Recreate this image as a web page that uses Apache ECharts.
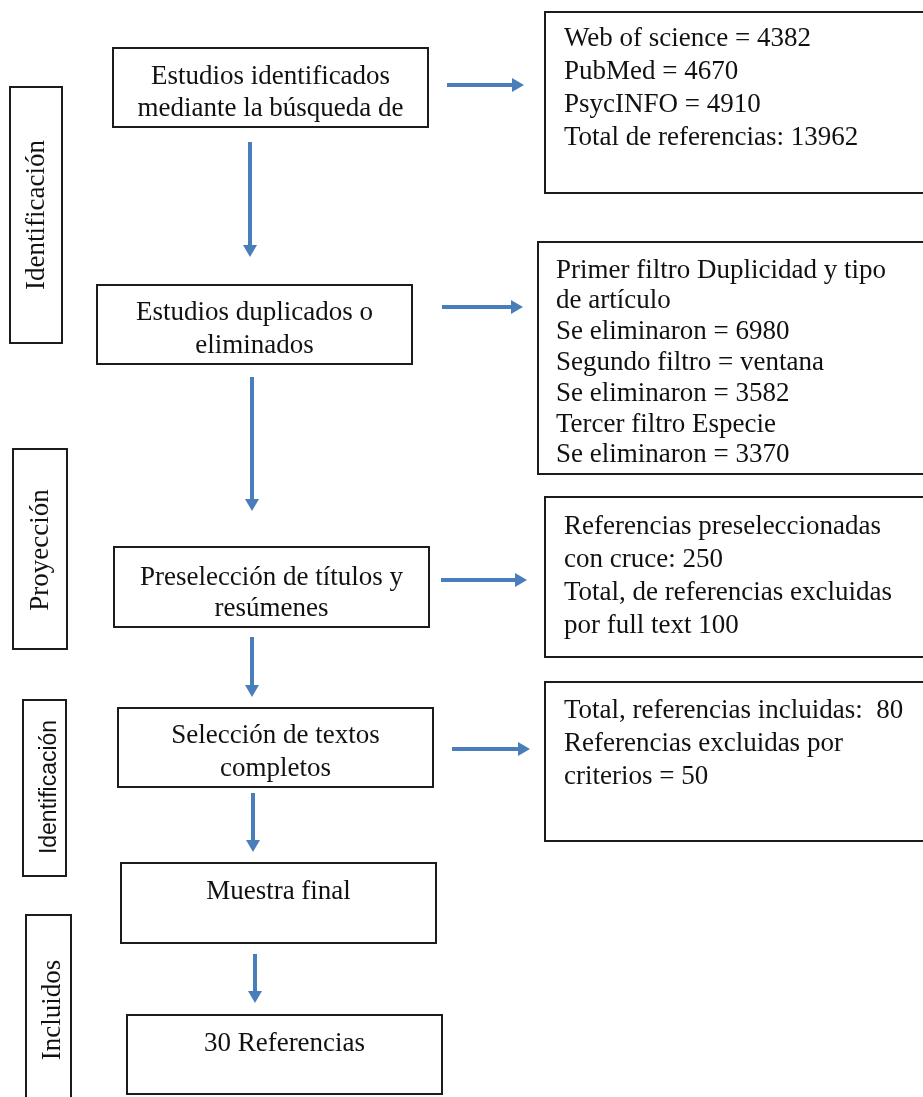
<!DOCTYPE html>
<html>
<head>
<meta charset="utf-8">
<script src="https://cdn.jsdelivr.net/npm/echarts@6/dist/echarts.min.js"></script>
<style>
  html, body { margin: 0; padding: 0; background: #ffffff; }
  #chart { width: 923px; height: 1097px; }
</style>
</head>
<body>
<div id="chart"></div>
<script>
// ---- content ----
const stageLabels = ['Identificación', 'Proyección', 'Identificación', 'Incluidos'];
const stepTexts = [
  ['Estudios identificados', 'mediante la búsqueda de'],
  ['Estudios duplicados o', 'eliminados'],
  ['Preselección de títulos y', 'resúmenes'],
  ['Selección de textos', 'completos'],
  ['Muestra final'],
  ['30 Referencias']
];
const noteTexts = [
  ['Web of science = 4382', 'PubMed = 4670', 'PsycINFO = 4910', 'Total de referencias: 13962'],
  ['Primer filtro Duplicidad y tipo', 'de artículo', 'Se eliminaron = 6980', 'Segundo filtro = ventana',
   'Se eliminaron = 3582', 'Tercer filtro Especie', 'Se eliminaron = 3370'],
  ['Referencias preseleccionadas', 'con cruce: 250', 'Total, de referencias excluidas', 'por full text 100'],
  ['Total, referencias incluidas:  80', 'Referencias excluidas por', 'criterios = 50']
];

// ---- layout (diagram units = pixels of the 923x1097 canvas) ----
// main boxes: x0, y0, x1, y1, first baseline, line gap
const stepLayout = [
  [113, 48, 428, 127, 83, 32],
  [97, 285, 412, 364, 319, 33],
  [114, 547, 429, 627, 584, 31],
  [118, 708, 433, 787, 742, 33],
  [121, 863, 436, 943, 898, 0],
  [127, 1015, 442, 1094, 1050, 0]
];
// note boxes: x0, y0, x1, y1, text x, first baseline, line gap
const noteLayout = [
  [545, 12, 940, 193, 564, 45, 33.3],
  [538, 242, 940, 474, 556, 277, 30.8],
  [545, 497, 940, 657, 564, 533, 33.3],
  [545, 682, 940, 841, 564, 717, 33]
];
// stage boxes: x0, y0, x1, y1, text center x, text center y, font key
const stageLayout = [
  [10, 87, 62, 343, 37, 215, 'serif'],
  [13, 449, 67, 649, 41, 550, 'serif'],
  [23, 700, 66, 876, 50, 787, 'sans'],
  [26, 915, 71, 1120, 53, 1010, 'serif']
];
// vertical arrows: x, y start, y end
const vArrowLayout = [
  [250, 142, 257],
  [252, 377, 511],
  [252, 637, 697],
  [253, 793, 852],
  [255, 954, 1003]
];
// horizontal arrows: x start, x end, y
const hArrowLayout = [
  [447, 524, 85],
  [442, 523, 307],
  [441, 527, 580],
  [452, 530, 749]
];

const SERIF = '27px "Liberation Serif", "Times New Roman", serif';
const SANS = '23px "Liberation Sans", Arial, sans-serif';
const TEXT_COLOR = '#111111';
const BOX_STROKE = '#1c1c1c';
const ARROW_COLOR = '#4a7ebb';
const BASE_TO_MID = 6.5;

function rectFrom(api, b) {
  const p0 = api.coord([b[0], b[1]]);
  const p1 = api.coord([b[2], b[3]]);
  return {
    type: 'rect',
    shape: { x: p0[0], y: p0[1], width: p1[0] - p0[0], height: p1[1] - p0[1] },
    style: { fill: '#ffffff', stroke: BOX_STROKE, lineWidth: 2 }
  };
}

function renderStep(params, api) {
  const i = api.value(0);
  const b = stepLayout[i];
  const children = [rectFrom(api, b)];
  const cx = (b[0] + b[2]) / 2;
  stepTexts[i].forEach(function (line, k) {
    const p = api.coord([cx, b[4] + k * b[5] - BASE_TO_MID]);
    children.push({
      type: 'text', x: p[0], y: p[1],
      style: { text: line, font: SERIF, fill: TEXT_COLOR, align: 'center', verticalAlign: 'middle' }
    });
  });
  return { type: 'group', children: children };
}

function renderNote(params, api) {
  const i = api.value(0);
  const b = noteLayout[i];
  const children = [rectFrom(api, b)];
  noteTexts[i].forEach(function (line, k) {
    const p = api.coord([b[4], b[5] + k * b[6] - BASE_TO_MID]);
    children.push({
      type: 'text', x: p[0], y: p[1],
      style: { text: line, font: SERIF, fill: TEXT_COLOR, align: 'left', verticalAlign: 'middle' }
    });
  });
  return { type: 'group', children: children };
}

function renderStage(params, api) {
  const i = api.value(0);
  const b = stageLayout[i];
  const p = api.coord([b[4], b[5]]);
  return {
    type: 'group',
    children: [
      rectFrom(api, b),
      {
        type: 'text', x: p[0], y: p[1], rotation: Math.PI / 2,
        style: { text: stageLabels[i], font: b[6] === 'sans' ? SANS : SERIF, fill: TEXT_COLOR,
                 align: 'center', verticalAlign: 'middle' }
      }
    ]
  };
}

const HEAD_LEN = 12, HEAD_HALF = 7;
function renderVArrow(params, api) {
  const a = vArrowLayout[api.value(0)];
  const s = api.coord([a[0], a[1]]);
  const e = api.coord([a[0], a[2]]);
  return {
    type: 'group',
    children: [
      { type: 'line', shape: { x1: s[0], y1: s[1], x2: e[0], y2: e[1] - HEAD_LEN + 1 },
        style: { stroke: ARROW_COLOR, lineWidth: 4 } },
      { type: 'polygon', shape: { points: [[e[0] - HEAD_HALF, e[1] - HEAD_LEN], [e[0] + HEAD_HALF, e[1] - HEAD_LEN], [e[0], e[1]]] },
        style: { fill: ARROW_COLOR } }
    ]
  };
}
function renderHArrow(params, api) {
  const a = hArrowLayout[api.value(0)];
  const s = api.coord([a[0], a[2]]);
  const e = api.coord([a[1], a[2]]);
  return {
    type: 'group',
    children: [
      { type: 'line', shape: { x1: s[0], y1: s[1], x2: e[0] - HEAD_LEN + 1, y2: e[1] },
        style: { stroke: ARROW_COLOR, lineWidth: 4 } },
      { type: 'polygon', shape: { points: [[e[0] - HEAD_LEN, e[1] - HEAD_HALF], [e[0] - HEAD_LEN, e[1] + HEAD_HALF], [e[0], e[1]]] },
        style: { fill: ARROW_COLOR } }
    ]
  };
}

function idx(arr) { return arr.map(function (_, i) { return [i]; }); }

const chart = echarts.init(document.getElementById('chart'), null, { renderer: 'canvas' });
chart.setOption({
  backgroundColor: '#ffffff',
  animation: false,
  grid: { left: 0, right: 0, top: 0, bottom: 0 },
  xAxis: { type: 'value', min: 0, max: 923, show: false },
  yAxis: { type: 'value', min: 0, max: 1097, inverse: true, show: false },
  series: [
    { type: 'custom', name: 'stages', renderItem: renderStage, data: idx(stageLabels), clip: true, silent: true },
    { type: 'custom', name: 'steps', renderItem: renderStep, data: idx(stepTexts), clip: true, silent: true },
    { type: 'custom', name: 'notes', renderItem: renderNote, data: idx(noteTexts), clip: true, silent: true },
    { type: 'custom', name: 'vArrows', renderItem: renderVArrow, data: idx(vArrowLayout), silent: true },
    { type: 'custom', name: 'hArrows', renderItem: renderHArrow, data: idx(hArrowLayout), silent: true }
  ]
});
</script>
</body>
</html>
